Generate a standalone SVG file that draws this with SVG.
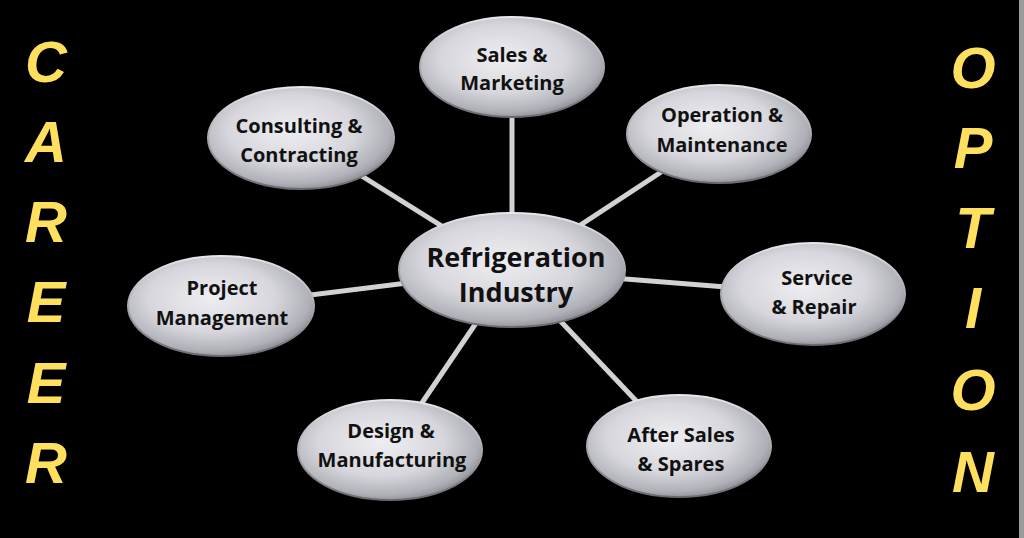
<svg xmlns="http://www.w3.org/2000/svg" width="1024" height="538" viewBox="0 0 1024 538">
<defs>
<radialGradient id="g" cx="0.45" cy="0.42" r="0.62">
<stop offset="0" stop-color="#eeeef2"/>
<stop offset="0.55" stop-color="#d6d6dc"/>
<stop offset="0.85" stop-color="#b0b0b8"/>
<stop offset="1" stop-color="#85858d"/>
</radialGradient>
<linearGradient id="rim" x1="0" y1="0" x2="0" y2="1">
<stop offset="0" stop-color="#e8e8ec"/>
<stop offset="1" stop-color="#6a6a70"/>
</linearGradient>
</defs>
<style>
.n ellipse{fill:url(#g);stroke:url(#rim);stroke-width:2}
.n text{font-family:"Open Sans","DejaVu Sans",sans-serif;font-weight:700;font-size:20px;fill:#111;text-anchor:middle}
.c text{font-size:27px}
.big{font-family:"Liberation Sans","DejaVu Sans",sans-serif;font-weight:900;font-size:58px;fill:#ffdf5e;text-anchor:middle;font-style:italic}
#connectors line{stroke:#d2d2d2;stroke-width:5}
</style>
<rect width="1024" height="538" fill="#000"/>
<rect x="1019" y="0" width="5" height="538" fill="#9a9a9a"/>
<g id="career">
<text class="big" x="46" y="82">C</text>
<text class="big" x="46" y="162">A</text>
<text class="big" x="46" y="242">R</text>
<text class="big" x="46" y="322">E</text>
<text class="big" x="46" y="403">E</text>
<text class="big" x="46" y="483">R</text>
</g>
<g id="option">
<text class="big" x="973" y="88">O</text>
<text class="big" x="973" y="168">P</text>
<text class="big" x="973" y="248">T</text>
<text class="big" x="973" y="328">I</text>
<text class="big" x="973" y="410">O</text>
<text class="big" x="973" y="492">N</text>
</g>
<g id="connectors">
<line x1="512" y1="270" x2="512" y2="67"/>
<line x1="512" y1="270" x2="301" y2="138"/>
<line x1="512" y1="270" x2="719" y2="134"/>
<line x1="512" y1="270" x2="221" y2="306"/>
<line x1="512" y1="270" x2="813" y2="294"/>
<line x1="512" y1="270" x2="390" y2="450"/>
<line x1="512" y1="270" x2="679" y2="446"/>
</g>
<g id="sales" class="n"><ellipse cx="512" cy="67" rx="92" ry="50"/><text x="512" y="62">Sales &amp;</text><text x="512" y="90">Marketing</text></g>
<g id="consulting" class="n"><ellipse cx="301" cy="138" rx="93" ry="51"/><text x="299" y="133">Consulting &amp;</text><text x="299" y="162">Contracting</text></g>
<g id="operation" class="n"><ellipse cx="719" cy="134" rx="92" ry="49"/><text x="722" y="122">Operation &amp;</text><text x="722" y="152">Maintenance</text></g>
<g id="center" class="n c"><ellipse cx="512" cy="270" rx="113" ry="57"/><text x="516" y="267">Refrigeration</text><text x="516" y="302">Industry</text></g>
<g id="project" class="n"><ellipse cx="221" cy="306" rx="93" ry="50"/><text x="222" y="295">Project</text><text x="222" y="325">Management</text></g>
<g id="service" class="n"><ellipse cx="813" cy="294" rx="92" ry="51"/><text x="817" y="285">Service</text><text x="814" y="314">&amp; Repair</text></g>
<g id="design" class="n"><ellipse cx="390" cy="450" rx="92" ry="50"/><text x="391" y="438">Design &amp;</text><text x="392" y="467">Manufacturing</text></g>
<g id="after" class="n"><ellipse cx="679" cy="446" rx="92" ry="51"/><text x="681" y="442">After Sales</text><text x="681" y="471">&amp; Spares</text></g>
</svg>
